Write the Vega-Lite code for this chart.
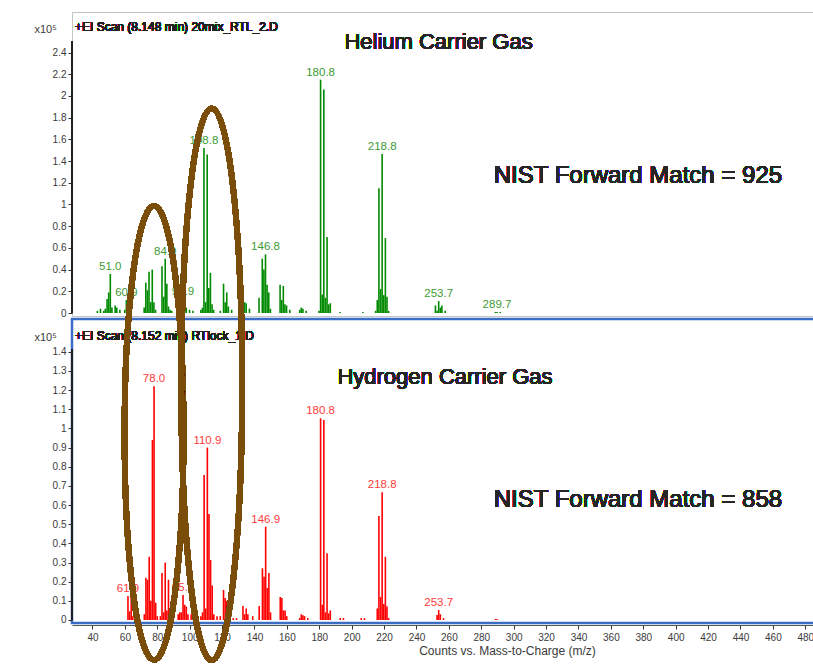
{
  "$schema": "https://vega.github.io/schema/vega-lite/v6.json",
  "background": "white",
  "padding": {"left": 32, "top": 11, "right": 0, "bottom": 0},
  "bounds": "flush",
  "spacing": 3,
  "config": {
    "font": "Liberation Sans",
    "view": {"stroke": null},
    "axis": {
      "labelFont": "Liberation Sans", "labelFontSize": 10, "labelColor": "#3a3a3a",
      "labelOverlap": false, "labelFlush": false, "labelBound": false,
      "tickColor": "#333333", "tickSize": 4, "grid": false, "domainColor": "#333333",
      "titleFont": "Liberation Sans", "titleFontWeight": "normal", "titleFontSize": 11, "titleColor": "#3a3a3a"
    },
    "text": {"font": "Liberation Sans"}
  },
  "datasets": {
    "helium": [
      {"mz": 43.0, "i": 0.02}, {"mz": 44.9, "i": 0.04}, {"mz": 46.9, "i": 0.02}, {"mz": 47.9, "i": 0.04},
      {"mz": 49.0, "i": 0.13}, {"mz": 50.0, "i": 0.19}, {"mz": 51.0, "i": 0.36, "label": "51.0"}, {"mz": 52.0, "i": 0.05},
      {"mz": 54.0, "i": 0.07}, {"mz": 55.0, "i": 0.05}, {"mz": 56.9, "i": 0.03}, {"mz": 59.9, "i": 0.03},
      {"mz": 60.9, "i": 0.12, "label": "60.9"}, {"mz": 62.0, "i": 0.05}, {"mz": 63.0, "i": 0.02},
      {"mz": 71.9, "i": 0.05}, {"mz": 72.9, "i": 0.28}, {"mz": 73.9, "i": 0.21}, {"mz": 74.9, "i": 0.38},
      {"mz": 75.9, "i": 0.10}, {"mz": 76.9, "i": 0.40}, {"mz": 77.9, "i": 0.10}, {"mz": 78.9, "i": 0.03},
      {"mz": 82.9, "i": 0.43}, {"mz": 83.9, "i": 0.15}, {"mz": 84.9, "i": 0.50, "label": "84.9"}, {"mz": 85.9, "i": 0.27},
      {"mz": 86.9, "i": 0.06}, {"mz": 87.9, "i": 0.03}, {"mz": 88.9, "i": 0.02}, {"mz": 93.0, "i": 0.02},
      {"mz": 94.9, "i": 0.05}, {"mz": 95.9, "i": 0.13, "label": "95.9"}, {"mz": 96.9, "i": 0.12}, {"mz": 97.9, "i": 0.05},
      {"mz": 99.9, "i": 0.03}, {"mz": 102.0, "i": 0.02}, {"mz": 106.9, "i": 0.03}, {"mz": 107.9, "i": 0.05},
      {"mz": 108.8, "i": 1.52, "label": "108.8"}, {"mz": 109.8, "i": 0.10}, {"mz": 110.8, "i": 1.46}, {"mz": 111.8, "i": 0.23},
      {"mz": 112.8, "i": 0.37}, {"mz": 113.8, "i": 0.08}, {"mz": 114.8, "i": 0.03}, {"mz": 118.9, "i": 0.02},
      {"mz": 120.9, "i": 0.27}, {"mz": 121.9, "i": 0.10}, {"mz": 122.9, "i": 0.19}, {"mz": 123.9, "i": 0.06},
      {"mz": 125.9, "i": 0.03}, {"mz": 131.9, "i": 0.03}, {"mz": 133.9, "i": 0.10}, {"mz": 134.9, "i": 0.09},
      {"mz": 136.9, "i": 0.04}, {"mz": 142.8, "i": 0.14}, {"mz": 144.8, "i": 0.50}, {"mz": 145.8, "i": 0.40},
      {"mz": 146.8, "i": 0.54, "label": "146.8"}, {"mz": 147.8, "i": 0.26}, {"mz": 148.8, "i": 0.19}, {"mz": 149.8, "i": 0.04},
      {"mz": 155.8, "i": 0.26}, {"mz": 156.8, "i": 0.12}, {"mz": 157.8, "i": 0.25}, {"mz": 158.8, "i": 0.08},
      {"mz": 159.8, "i": 0.07}, {"mz": 161.8, "i": 0.03}, {"mz": 167.9, "i": 0.03}, {"mz": 168.9, "i": 0.05},
      {"mz": 169.9, "i": 0.04}, {"mz": 171.9, "i": 0.02}, {"mz": 179.8, "i": 0.02},
      {"mz": 180.8, "i": 2.15, "label": "180.8"}, {"mz": 181.8, "i": 0.17}, {"mz": 182.8, "i": 2.06}, {"mz": 183.8, "i": 0.14},
      {"mz": 184.8, "i": 0.70}, {"mz": 185.8, "i": 0.08}, {"mz": 186.8, "i": 0.09}, {"mz": 192.9, "i": 0.01},
      {"mz": 206.9, "i": 0.01}, {"mz": 214.8, "i": 0.02}, {"mz": 215.8, "i": 0.12}, {"mz": 216.8, "i": 1.15},
      {"mz": 217.8, "i": 0.22}, {"mz": 218.8, "i": 1.465, "label": "218.8"}, {"mz": 219.8, "i": 0.165}, {"mz": 220.8, "i": 0.69},
      {"mz": 221.8, "i": 0.15}, {"mz": 222.8, "i": 0.02}, {"mz": 251.7, "i": 0.07}, {"mz": 252.7, "i": 0.02},
      {"mz": 253.7, "i": 0.11, "label": "253.7"}, {"mz": 254.7, "i": 0.05}, {"mz": 255.7, "i": 0.07}, {"mz": 257.7, "i": 0.02},
      {"mz": 288.7, "i": 0.01}, {"mz": 289.7, "i": 0.01, "label": "289.7"}, {"mz": 291.7, "i": 0.01}
    ],
    "hydrogen": [
      {"mz": 61.9, "i": 0.125, "label": "61.9"}, {"mz": 62.9, "i": 0.045}, {"mz": 63.9, "i": 0.12}, {"mz": 64.9, "i": 0.02},
      {"mz": 72.0, "i": 0.03}, {"mz": 73.0, "i": 0.22}, {"mz": 74.0, "i": 0.21}, {"mz": 75.0, "i": 0.33},
      {"mz": 76.0, "i": 0.10}, {"mz": 77.0, "i": 0.94}, {"mz": 78.0, "i": 1.22, "label": "78.0"}, {"mz": 79.0, "i": 0.09},
      {"mz": 80.0, "i": 0.02}, {"mz": 81.9, "i": 0.02}, {"mz": 82.9, "i": 0.245}, {"mz": 83.9, "i": 0.04},
      {"mz": 84.9, "i": 0.30}, {"mz": 85.9, "i": 0.05}, {"mz": 86.9, "i": 0.21}, {"mz": 87.9, "i": 0.03},
      {"mz": 89.9, "i": 0.02}, {"mz": 92.9, "i": 0.03}, {"mz": 93.9, "i": 0.04}, {"mz": 94.9, "i": 0.04},
      {"mz": 95.9, "i": 0.13, "label": "95.9"}, {"mz": 96.9, "i": 0.08}, {"mz": 97.9, "i": 0.07}, {"mz": 98.9, "i": 0.03},
      {"mz": 100.9, "i": 0.03}, {"mz": 102.9, "i": 0.02}, {"mz": 104.9, "i": 0.01}, {"mz": 106.9, "i": 0.02},
      {"mz": 107.9, "i": 0.04}, {"mz": 108.9, "i": 0.757}, {"mz": 109.9, "i": 0.06}, {"mz": 110.9, "i": 0.90, "label": "110.9"},
      {"mz": 111.9, "i": 0.553}, {"mz": 112.9, "i": 0.313}, {"mz": 113.9, "i": 0.18}, {"mz": 114.9, "i": 0.03},
      {"mz": 116.9, "i": 0.02}, {"mz": 118.9, "i": 0.02}, {"mz": 120.9, "i": 0.157}, {"mz": 121.9, "i": 0.115},
      {"mz": 122.9, "i": 0.10}, {"mz": 123.9, "i": 0.03}, {"mz": 126.9, "i": 0.01}, {"mz": 128.9, "i": 0.01},
      {"mz": 132.9, "i": 0.073}, {"mz": 133.9, "i": 0.03}, {"mz": 134.9, "i": 0.06}, {"mz": 135.9, "i": 0.03},
      {"mz": 138.9, "i": 0.02}, {"mz": 142.9, "i": 0.073}, {"mz": 144.9, "i": 0.27}, {"mz": 145.9, "i": 0.226},
      {"mz": 146.9, "i": 0.487, "label": "146.9"}, {"mz": 147.9, "i": 0.167}, {"mz": 148.9, "i": 0.245}, {"mz": 149.9, "i": 0.04},
      {"mz": 155.9, "i": 0.12}, {"mz": 156.9, "i": 0.115}, {"mz": 157.9, "i": 0.05}, {"mz": 158.9, "i": 0.05},
      {"mz": 159.9, "i": 0.02}, {"mz": 167.9, "i": 0.01}, {"mz": 168.9, "i": 0.03}, {"mz": 169.9, "i": 0.025},
      {"mz": 170.9, "i": 0.02}, {"mz": 172.9, "i": 0.01}, {"mz": 180.8, "i": 1.053, "label": "180.8"}, {"mz": 181.8, "i": 0.08},
      {"mz": 182.8, "i": 1.044}, {"mz": 183.8, "i": 0.04}, {"mz": 184.8, "i": 0.348}, {"mz": 185.8, "i": 0.035},
      {"mz": 186.8, "i": 0.05}, {"mz": 192.9, "i": 0.01}, {"mz": 194.9, "i": 0.01}, {"mz": 205.9, "i": 0.01},
      {"mz": 207.9, "i": 0.01}, {"mz": 215.8, "i": 0.06}, {"mz": 216.8, "i": 0.543}, {"mz": 217.8, "i": 0.12},
      {"mz": 218.8, "i": 0.667, "label": "218.8"}, {"mz": 219.8, "i": 0.083}, {"mz": 220.8, "i": 0.33}, {"mz": 221.8, "i": 0.07},
      {"mz": 222.8, "i": 0.01}, {"mz": 252.7, "i": 0.026}, {"mz": 253.7, "i": 0.052, "label": "253.7"}, {"mz": 254.7, "i": 0.03},
      {"mz": 256.7, "i": 0.01}, {"mz": 288.7, "i": 0.005}, {"mz": 289.7, "i": 0.005}
    ]
  },
  "vconcat": [
    {
      "width": 743,
      "height": 304,
      "view": {"stroke": "#c4c4c4", "strokeWidth": 1},
      "data": {"name": "helium"},
      "layer": [
        {
          "mark": {"type": "rule", "color": "#008a00", "strokeWidth": 1.6},
          "encoding": {
            "x": {"field": "mz", "type": "quantitative", "scale": {"domain": [27.35, 486], "nice": false, "zero": false}, "axis": null},
            "y": {"field": "i", "type": "quantitative", "scale": {"domain": [-0.0276, 2.774], "nice": false, "zero": false},
              "axis": {"values": [0, 0.2, 0.4, 0.6, 0.8, 1, 1.2, 1.4, 1.6, 1.8, 2, 2.2, 2.4], "format": "~g", "domain": false,
                "labelOverlap": false, "labelFlush": false,
                "title": "x10⁵", "titleAngle": 0, "titleAlign": "left", "titleBaseline": "middle", "titleX": -38, "titleY": 17, "labelPadding": 2}},
            "y2": {"datum": 0}
          }
        },
        {
          "mark": {"type": "rule", "color": "#222222", "strokeWidth": 1.5},
          "encoding": {
            "x": {"datum": 27.35, "axis": null},
            "y": {"datum": 0, "axis": {"values": [0, 0.2, 0.4, 0.6, 0.8, 1, 1.2, 1.4, 1.6, 1.8, 2, 2.2, 2.4], "format": "~g", "domain": false,
                "labelOverlap": false, "labelFlush": false,
                "title": "x10⁵", "titleAngle": 0, "titleAlign": "left", "titleBaseline": "middle", "titleX": -38, "titleY": 17, "labelPadding": 2}},
            "y2": {"datum": 2.5}
          }
        },
        {
          "transform": [{"filter": "datum.label"}],
          "mark": {"type": "text", "color": "#3d9b35", "fontSize": 11.5, "baseline": "bottom", "dy": -2},
          "encoding": {
            "x": {"field": "mz", "type": "quantitative", "axis": null},
            "y": {"field": "i", "type": "quantitative", "axis": {"values": [0, 0.2, 0.4, 0.6, 0.8, 1, 1.2, 1.4, 1.6, 1.8, 2, 2.2, 2.4], "format": "~g", "domain": false,
                "labelOverlap": false, "labelFlush": false,
                "title": "x10⁵", "titleAngle": 0, "titleAlign": "left", "titleBaseline": "middle", "titleX": -38, "titleY": 17, "labelPadding": 2}},
            "text": {"field": "label"}
          }
        },
        {
          "mark": {"type": "text", "fontSize": 12, "align": "left", "baseline": "middle", "color": "#222222"},
          "encoding": {
            "x": {"datum": 29.2, "axis": null},
            "y": {"datum": 2.636, "axis": {"values": [0, 0.2, 0.4, 0.6, 0.8, 1, 1.2, 1.4, 1.6, 1.8, 2, 2.2, 2.4], "format": "~g", "domain": false,
                "labelOverlap": false, "labelFlush": false,
                "title": "x10⁵", "titleAngle": 0, "titleAlign": "left", "titleBaseline": "middle", "titleX": -38, "titleY": 17, "labelPadding": 2}},
            "text": {"value": "+EI Scan (8.148 min) 20mix_RTL_2.D"}
          }
        },
        {
          "mark": {"type": "text", "fontSize": 22, "align": "center", "baseline": "middle", "color": "#262626"},
          "encoding": {
            "x": {"datum": 253.6, "axis": null},
            "y": {"datum": 2.493, "axis": {"values": [0, 0.2, 0.4, 0.6, 0.8, 1, 1.2, 1.4, 1.6, 1.8, 2, 2.2, 2.4], "format": "~g", "domain": false,
                "labelOverlap": false, "labelFlush": false,
                "title": "x10⁵", "titleAngle": 0, "titleAlign": "left", "titleBaseline": "middle", "titleX": -38, "titleY": 17, "labelPadding": 2}},
            "text": {"value": "Helium  Carrier Gas"}
          }
        },
        {
          "mark": {"type": "text", "fontSize": 24, "align": "left", "baseline": "middle", "color": "#262626"},
          "encoding": {
            "x": {"datum": 287.7, "axis": null},
            "y": {"datum": 1.267, "axis": {"values": [0, 0.2, 0.4, 0.6, 0.8, 1, 1.2, 1.4, 1.6, 1.8, 2, 2.2, 2.4], "format": "~g", "domain": false,
                "labelOverlap": false, "labelFlush": false,
                "title": "x10⁵", "titleAngle": 0, "titleAlign": "left", "titleBaseline": "middle", "titleX": -38, "titleY": 17, "labelPadding": 2}},
            "text": {"value": "NIST Forward Match = 925"}
          }
        }
      ]
    },
    {
      "width": 743,
      "height": 304,
      "view": {"stroke": "#3b6cc5", "strokeWidth": 2.5},
      "data": {"name": "hydrogen"},
      "encoding": {
        "x": {"type": "quantitative", "scale": {"domain": [27.35, 486], "nice": false, "zero": false},
          "axis": {"values": [40, 60, 80, 100, 120, 140, 160, 180, 200, 220, 240, 260, 280, 300, 320, 340, 360, 380, 400, 420, 440, 460, 480],
            "labelOverlap": false, "labelFlush": false,
            "title": "Counts vs. Mass-to-Charge (m/z)", "offset": 2, "tickSize": 4, "labelPadding": 3, "titlePadding": 3,
            "titleX": 435, "titleAlign": "center", "titleFontSize": 12, "domainColor": "#555555"}},
        "y": {"type": "quantitative", "scale": {"domain": [-0.01566, 1.571], "nice": false, "zero": false},
          "axis": {"values": [0, 0.1, 0.2, 0.3, 0.4, 0.5, 0.6, 0.7, 0.8, 0.9, 1, 1.1, 1.2, 1.3, 1.4], "format": "~g", "domain": false,
            "labelOverlap": false, "labelFlush": false,
            "title": "x10⁵", "titleAngle": 0, "titleAlign": "left", "titleBaseline": "middle", "titleX": -38, "titleY": 18, "labelPadding": 2}}
      },
      "layer": [
        {
          "mark": {"type": "rule", "color": "#ff0000", "strokeWidth": 1.6},
          "encoding": {"x": {"field": "mz"}, "y": {"field": "i"}, "y2": {"datum": 0}}
        },
        {
          "mark": {"type": "rule", "color": "#222222", "strokeWidth": 1.5},
          "encoding": {"x": {"datum": 27.35}, "y": {"datum": 0}, "y2": {"datum": 1.41}}
        },
        {
          "transform": [{"filter": "datum.label"}],
          "mark": {"type": "text", "color": "#ff3b3b", "fontSize": 11.5, "baseline": "bottom", "dy": -2},
          "encoding": {"x": {"field": "mz"}, "y": {"field": "i"}, "text": {"field": "label"}}
        },
        {
          "mark": {"type": "text", "fontSize": 12, "align": "left", "baseline": "middle", "color": "#222222"},
          "encoding": {"x": {"datum": 29.2}, "y": {"datum": 1.482}, "text": {"value": "+EI Scan (8.152 min) RTlock_1.D"}}
        },
        {
          "mark": {"type": "text", "fontSize": 22, "align": "center", "baseline": "middle", "color": "#262626"},
          "encoding": {"x": {"datum": 257.6}, "y": {"datum": 1.268}, "text": {"value": "Hydrogen  Carrier Gas"}}
        },
        {
          "mark": {"type": "text", "fontSize": 24, "align": "left", "baseline": "middle", "color": "#262626"},
          "encoding": {"x": {"datum": 287.7}, "y": {"datum": 0.626}, "text": {"value": "NIST Forward Match = 858"}}
        },
        {
          "mark": {"type": "point", "shape": "M0,-1C0.0718,-1,0.13,-0.5523,0.13,0C0.13,0.5523,0.0718,1,0,1C-0.0718,1,-0.13,0.5523,-0.13,0C-0.13,-0.5523,-0.0718,-1,0,-1Z",
            "size": 206116, "filled": false, "stroke": "#7a4e0a", "strokeWidth": 5.5, "opacity": 1, "clip": false},
          "encoding": {"x": {"datum": 78.0}, "y": {"datum": 0.976}}
        },
        {
          "mark": {"type": "point", "shape": "M0,-1C0.0611,-1,0.1106,-0.5523,0.1106,0C0.1106,0.5523,0.0611,1,0,1C-0.0611,1,-0.1106,0.5523,-0.1106,0C-0.1106,-0.5523,-0.0611,-1,0,-1Z",
            "size": 304373, "filled": false, "stroke": "#7a4e0a", "strokeWidth": 5.5, "opacity": 1, "clip": false},
          "encoding": {"x": {"datum": 113.6}, "y": {"datum": 1.23}}
        }
      ]
    }
  ]
}
